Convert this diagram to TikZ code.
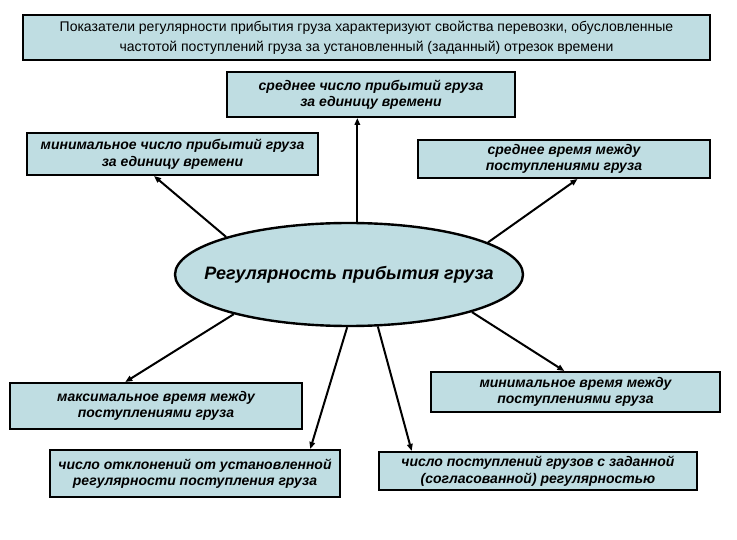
\documentclass[tikz,border=0pt]{standalone}
\usepackage{fontspec}
\setmainfont{Liberation Sans}
\usetikzlibrary{shapes.geometric,arrows.meta}
\definecolor{boxfill}{RGB}{191,221,226}

\begin{document}
\begin{tikzpicture}[x=1pt,y=-1pt,
  box/.style={draw,line width=2pt,fill=boxfill,inner sep=0pt,align=center,font=\fontsize{14}{16.5}\selectfont\bfseries\itshape},
  arr/.style={-{Triangle[length=7pt,width=5.5pt]},line width=2pt}]
\useasboundingbox (0,0) rectangle (737,540);

\node[box,line width=2.4pt,minimum width=687pt,minimum height=45pt,font=\fontsize{14}{20}\selectfont] (intro) at (366.5,37.5) {Показатели регулярности прибытия груза характеризуют свойства перевозки, обусловленные\\ частотой поступлений груза за установленный (заданный) отрезок времени};

\node[box,minimum width=288pt,minimum height=45pt] (avgnum) at (371,94.5) {среднее число прибытий груза\\ за единицу времени};
\node[box,minimum width=291pt,minimum height=42pt] (minnum) at (172.5,154) {минимальное число прибытий груза\\ за единицу времени};
\node[box,minimum width=292pt,minimum height=38pt] (avgtime) at (564,159) {среднее время между\\ поступлениями груза};

\node[ellipse,draw,line width=2.4pt,fill=boxfill,inner xsep=-30pt,inner ysep=0pt,minimum width=348pt,minimum height=103pt,font=\fontsize{18}{20}\selectfont\bfseries\itshape] (reg) at (349,274.5) {Регулярность прибытия груза};

\node[box,minimum width=292pt,minimum height=46pt] (maxtime) at (156,406) {максимальное время между\\ поступлениями груза};
\node[box,minimum width=289pt,minimum height=40pt] (mintime) at (575.5,392) {минимальное время между\\ поступлениями груза};
\node[box,minimum width=290pt,minimum height=47pt] (dev) at (195,473.5) {число отклонений от установленной\\ регулярности поступления груза};
\node[box,minimum width=318pt,minimum height=38pt] (count) at (538,471) {число поступлений грузов с заданной\\ (согласованной) регулярностью};

\draw[arr] (reg.81) -- (reg.81 |- avgnum.south);
\draw[arr] (reg.163) -- (minnum.230);
\draw[arr] (reg.13) -- (avgtime.304);
\draw[arr] (reg.199) -- (maxtime.142);
\draw[arr] (reg.268) -- (dev.12);
\draw[arr] (reg.299) -- (count.171);
\draw[arr] (reg.343) -- (mintime.118);

\end{tikzpicture}
\end{document}
